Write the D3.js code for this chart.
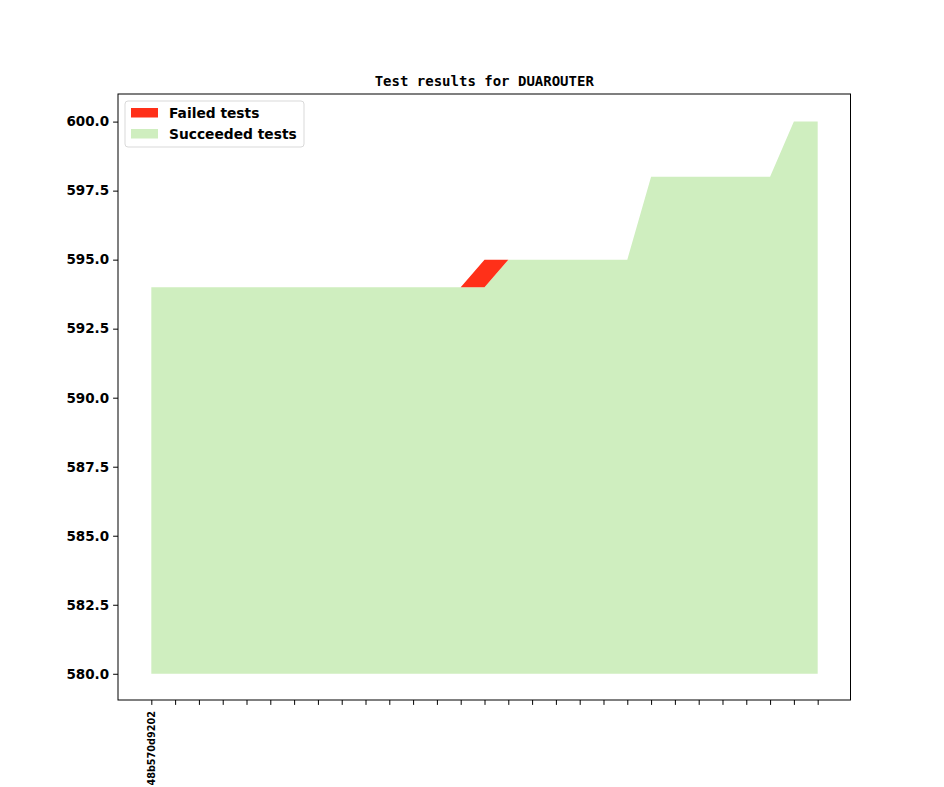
<!DOCTYPE html>
<html><head><meta charset="utf-8">
<script src="https://cdn.jsdelivr.net/npm/d3@7"></script>
<style>body{margin:0;background:#fff}</style>
</head><body>
<svg id="c" width="944" height="787"></svg>
<script>
const revisions = ["48b570d9202"];
const succeeded = [594,594,594,594,594,594,594,594,594,594,594,594,594,594,594,595,595,595,595,595,595,598,598,598,598,598,598,600,600];
const failed    = [0,0,0,0,0,0,0,0,0,0,0,0,0,0,1,0,0,0,0,0,0,0,0,0,0,0,0,0,0];
const baseline = 580;
const yTicks = [580,582.5,585,587.5,590,592.5,595,597.5,600];

const svg = d3.select("#c");
const L=118, R=850.5, T=94, B=700;
const n = succeeded.length;
const x = d3.scaleLinear().domain([-1.4, n-1+1.4]).range([L,R+0.5]);
const y = d3.scaleLinear().domain([579.05,601]).range([B,T]);
const idx = d3.range(n);

const areaS = d3.area().x(i=>x(i)).y0(()=>y(baseline)).y1(i=>y(succeeded[i]));
const areaF = d3.area().x(i=>x(i)).y0(i=>y(succeeded[i])).y1(i=>y(succeeded[i]+failed[i]));
svg.append("path").attr("d",areaS(idx)).attr("fill","#cfeebf");
svg.append("path").attr("d",areaF(idx)).attr("fill","#ff3019");

svg.append("rect").attr("x",L).attr("y",T).attr("width",R-L).attr("height",B-T)
  .attr("fill","none").attr("stroke","#000").attr("stroke-width",1);

const yAxis = svg.append("g").attr("transform",`translate(${L},0)`)
  .call(d3.axisLeft(y).tickValues(yTicks).tickFormat(d3.format(".1f")).tickSizeOuter(0).tickSize(4.9).tickPadding(4));
yAxis.select(".domain").remove();
yAxis.selectAll("text").attr("font-family","DejaVu Sans").attr("font-weight","bold").attr("font-size","13.5px").attr("fill","#000");

const xAxis = svg.append("g").attr("transform",`translate(0,${B})`)
  .call(d3.axisBottom(x).tickValues(idx).tickFormat(i=>revisions[i]||"").tickSizeOuter(0).tickSize(4.9));
xAxis.select(".domain").remove();
xAxis.selectAll("text").attr("font-family","DejaVu Sans").attr("font-weight","bold").attr("font-size","9.7px")
  .attr("text-anchor","end").attr("dy","0.35em")
  .attr("transform","translate(0,11) rotate(-90)").attr("x",0).attr("y",0);

svg.append("text").attr("x",(L+R)/2).attr("y",86).attr("text-anchor","middle")
  .attr("font-family","DejaVu Sans Mono").attr("font-weight","bold").attr("font-size","14px")
  .text("Test results for DUAROUTER");

const lg = svg.append("g");
lg.append("rect").attr("x",125).attr("y",101).attr("width",179).attr("height",46).attr("rx",3)
  .attr("fill","#fff").attr("fill-opacity",0.8).attr("stroke","#d9d9d9");
const items=[["Failed tests","#ff3019"],["Succeeded tests","#cfeebf"]];
items.forEach((d,i)=>{
  lg.append("rect").attr("x",131).attr("y",108+i*21).attr("width",27).attr("height",9.5).attr("fill",d[1]);
  lg.append("text").attr("x",169).attr("y",118+i*21).attr("font-family","DejaVu Sans").attr("font-weight","bold")
    .attr("font-size","13.8px").text(d[0]);
});
</script>
</body></html>
